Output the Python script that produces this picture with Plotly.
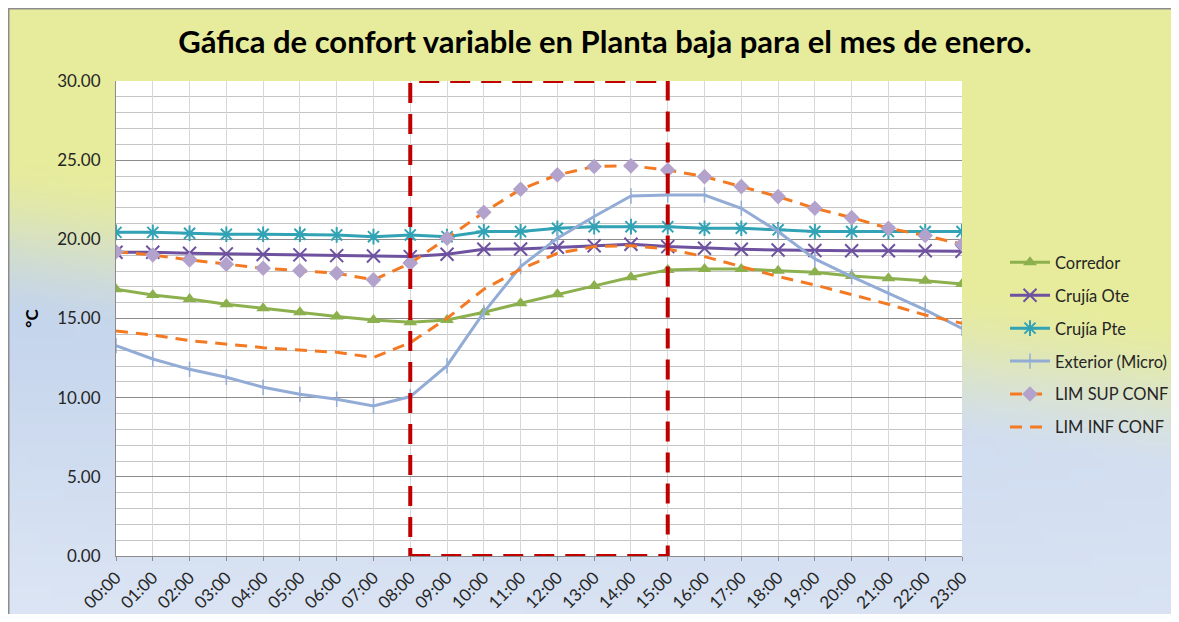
import base64, struct, zlib
import plotly.graph_objects as go

hours = ["00:00", "01:00", "02:00", "03:00", "04:00", "05:00", "06:00", "07:00",
         "08:00", "09:00", "10:00", "11:00", "12:00", "13:00", "14:00", "15:00",
         "16:00", "17:00", "18:00", "19:00", "20:00", "21:00", "22:00", "23:00"]

corredor = [16.85, 16.49, 16.23, 15.90, 15.65, 15.39, 15.12, 14.91, 14.76, 14.91, 15.39, 15.96,
            16.53, 17.06, 17.60, 18.07, 18.13, 18.13, 18.02, 17.92, 17.69, 17.54, 17.39, 17.18]
crujia_ote = [19.18, 19.18, 19.12, 19.08, 19.04, 19.02, 18.97, 18.95, 18.91, 19.06, 19.37, 19.39,
              19.50, 19.60, 19.69, 19.54, 19.44, 19.37, 19.33, 19.29, 19.28, 19.28, 19.28, 19.25]
crujia_pte = [20.44, 20.44, 20.38, 20.32, 20.32, 20.32, 20.28, 20.17, 20.28, 20.17, 20.49, 20.49,
              20.70, 20.80, 20.80, 20.80, 20.70, 20.70, 20.60, 20.49, 20.49, 20.49, 20.49, 20.49]
exterior = [13.29, 12.44, 11.79, 11.29, 10.66, 10.21, 9.90, 9.48, 10.07, 12.02, 15.39, 18.28,
            20.07, 21.44, 22.74, 22.80, 22.80, 21.96, 20.49, 18.76, 17.65, 16.60, 15.54, 14.38]
lim_sup = [19.22, 19.01, 18.70, 18.43, 18.17, 18.02, 17.86, 17.44, 18.49, 20.07, 21.71, 23.16,
           24.07, 24.60, 24.64, 24.38, 23.96, 23.33, 22.70, 21.96, 21.37, 20.70, 20.24, 19.69]
lim_inf = [14.21, 13.96, 13.60, 13.39, 13.16, 13.01, 12.87, 12.53, 13.47, 15.01, 16.85, 18.11,
           19.12, 19.54, 19.60, 19.39, 18.91, 18.28, 17.65, 17.12, 16.49, 15.90, 15.22, 14.70]

box_start, box_end = "08:00", "15:00"

# the html page has an 8px body margin on every side
OFF = 8
W, H = 1179 - 2 * OFF, 622 - 2 * OFF
ML, MT = 116 - OFF, 81 - OFF
MR = W - (962 - OFF)
MB = H - (556 - OFF)
PW, PH = W - ML - MR, H - MT - MB


def gradient_png(w, h):
    Y = (231, 236, 156)
    B = (197, 213, 236)
    L = (223, 231, 245)

    def clamp(a):
        return max(0.0, min(1.0, a))

    rows = []
    for j in range(h):
        v = j / (h - 1)
        row = bytearray([0])
        for i in range(w):
            u = i / (w - 1)
            c = 0.38 + 0.26 * u
            s = clamp((v - c) / 0.28 + 0.5)
            s = s * s * (3 - 2 * s)
            be = [B[k] * (1 - 0.55 * u) + L[k] * 0.55 * u for k in range(3)]
            col = [Y[k] * (1 - s) + be[k] * s for k in range(3)]
            wl = clamp((v - c - 0.15) / 0.45) * 0.85
            col = [col[k] * (1 - wl) + L[k] * wl for k in range(3)]
            row.extend(int(round(x)) for x in col)
        rows.append(bytes(row))
    raw = b"".join(rows)

    def chunk(t, d):
        return struct.pack(">I", len(d)) + t + d + struct.pack(">I", zlib.crc32(t + d) & 0xffffffff)

    png = b"\x89PNG\r\n\x1a\n" + chunk(b"IHDR", struct.pack(">IIBBBBB", w, h, 8, 2, 0, 0, 0)) \
        + chunk(b"IDAT", zlib.compress(raw, 9)) + chunk(b"IEND", b"")
    return "data:image/png;base64," + base64.b64encode(png).decode()


FONT = "Lato, 'Open Sans', sans-serif"

fig = go.Figure()

fig.add_trace(go.Scatter(x=hours, y=corredor, name="Corredor", mode="lines+markers",
                         line=dict(color="#8DB04E", width=3),
                         marker=dict(symbol="triangle-up", size=12, color="#8DB04E"),
                         legendgroup="a"))
fig.add_trace(go.Scatter(x=hours, y=crujia_ote, name="Crujía Ote", mode="lines+markers",
                         line=dict(color="#6E52A0", width=3),
                         marker=dict(symbol="x-thin-open", size=13, line=dict(color="#6E52A0", width=2)),
                         legendgroup="b"))
fig.add_trace(go.Scatter(x=hours, y=crujia_pte, name="Crujía Pte", mode="lines+markers",
                         line=dict(color="#32A3B5", width=3),
                         marker=dict(symbol="asterisk-open", size=13, line=dict(color="#32A3B5", width=2)),
                         legendgroup="c"))
fig.add_trace(go.Scatter(x=hours, y=exterior, name="Exterior (Micro)", mode="lines+markers",
                         line=dict(color="#93ACD6", width=3),
                         marker=dict(symbol="line-ns-open", size=11, line=dict(color="#93ACD6", width=1.5)),
                         legendgroup="d"))
fig.add_trace(go.Scatter(x=hours, y=lim_sup, name="LIM SUP CONF", mode="lines+markers",
                         line=dict(color="#F37A22", width=3, dash="12px,8px"),
                         marker=dict(symbol="diamond", size=12, color="#B3A2CB"),
                         legendgroup="e"))
fig.add_trace(go.Scatter(x=hours, y=lim_inf, name="LIM INF CONF", mode="lines",
                         line=dict(color="#F37A22", width=3, dash="12px,8px"),
                         legendgroup="f"))

shapes = [
    dict(type="rect", xref="x domain", yref="y domain", x0=0, x1=1, y0=0, y1=1,
         fillcolor="white", line=dict(width=0), layer="below"),
    dict(type="rect", xref="x", yref="y", x0=box_start, x1=box_end, y0=0, y1=30,
         line=dict(color="#C00000", width=4, dash="20px,11px"), layer="above"),
    dict(type="line", xref="paper", yref="paper", x0=-ML / PW, x1=(W - ML) / PW,
         y0=1 + (MT - 0.5) / PH, y1=1 + (MT - 0.5) / PH, line=dict(color="#8C8C8C", width=2)),
    dict(type="line", xref="paper", yref="paper", x0=-(ML - 0.5) / PW, x1=-(ML - 0.5) / PW,
         y0=1 + MT / PH, y1=-MB / PH, line=dict(color="#8C8C8C", width=2)),
]

fig.update_layout(
    width=W, height=H,
    margin=dict(l=ML, r=MR, t=MT, b=MB, autoexpand=False),
    paper_bgcolor="#E0E6C8",
    plot_bgcolor="white",
    font=dict(family=FONT, size=16, color="#262626"),
    title=dict(text="<b>Gáfica de confort variable en Planta baja para el mes de enero.</b>",
               x=(605 - OFF) / W, xanchor="center", y=1 - (42 - OFF) / H, yanchor="middle",
               font=dict(family=FONT, size=31, color="#000000")),
    images=[dict(source=gradient_png(96, 56), xref="paper", yref="paper",
                 x=-ML / PW, y=1 + MT / PH, sizex=W / PW, sizey=H / PH,
                 xanchor="left", yanchor="top", sizing="stretch", layer="below")],
    shapes=shapes,
    legend=dict(xref="container", yref="container", x=997 / W, y=1 - 237 / H,
                xanchor="left", yanchor="top", bgcolor="rgba(0,0,0,0)",
                font=dict(family=FONT, size=16.5, color="#262626"),
                tracegroupgap=8.5, traceorder="grouped", itemwidth=40),
    showlegend=True,
)

fig.update_xaxes(type="category", range=[0, 23], tickangle=-45, automargin=False,
                 showgrid=True, gridcolor="#D8D8D8", gridwidth=1,
                 showline=True, linecolor="#8C8C8C", linewidth=1,
                 ticks="outside", ticklen=4, tickcolor="#8C8C8C",
                 tickfont=dict(family=FONT, size=17, color="#262626"))
fig.update_yaxes(range=[0, 30], dtick=5, tickformat=".2f", automargin=False,
                 showgrid=True, gridcolor="#8C8C8C", gridwidth=1,
                 minor=dict(dtick=1, showgrid=True, gridcolor="#C4C4C4", gridwidth=1),
                 showline=True, linecolor="#8C8C8C", linewidth=1,
                 ticks="", ticklabelstandoff=11,
                 tickfont=dict(family=FONT, size=17, color="#262626"),
                 title=dict(text="<b>°C</b>", standoff=14, font=dict(family=FONT, size=17, color="#000")),
                 zeroline=False)

fig.write_html("out.html")
